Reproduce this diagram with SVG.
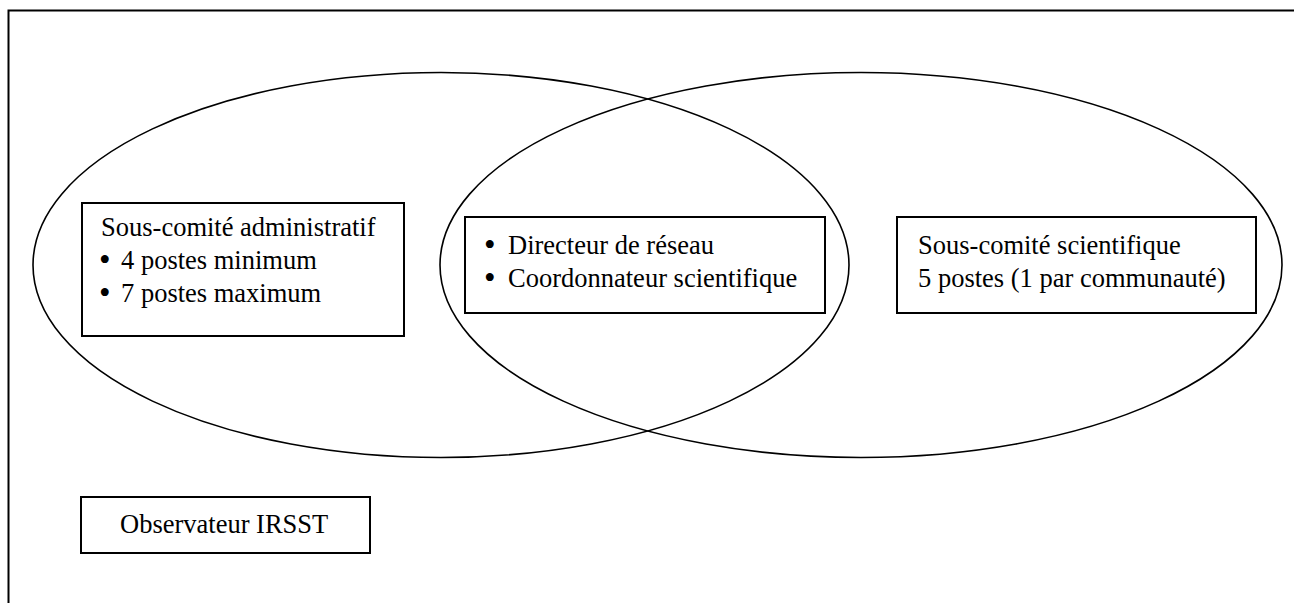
<svg xmlns="http://www.w3.org/2000/svg" width="1294" height="603" viewBox="0 0 1294 603">
<style>
.frame{fill:none;stroke:#000;stroke-width:2}
.ell{fill:none;stroke:#000;stroke-width:1.6}
.box{fill:#fff;stroke:#000;stroke-width:2}
text{font-family:"Liberation Serif","Times New Roman",serif;font-size:26.5px;fill:#000}
.bul{font-size:33px}
</style>
<rect width="1294" height="603" fill="#fff"/>
<path class="frame" d="M8.5,640 V10.5 H1300"/>
<g id="connectors"></g>
<g id="ellipse-left"><ellipse class="ell" cx="441" cy="265" rx="408" ry="192.5"/></g>
<g id="ellipse-right"><ellipse class="ell" cx="861" cy="265" rx="421" ry="192.5"/></g>
<g id="admin">
<rect class="box" x="82" y="203" width="322" height="133"/>
<text x="101" y="236">Sous-comité administratif</text>
<text class="bul" x="99" y="271">•</text><text x="121" y="269">4 postes minimum</text>
<text class="bul" x="99" y="304">•</text><text x="121" y="302">7 postes maximum</text>
</g>
<g id="centre">
<rect class="box" x="465" y="217" width="360" height="96"/>
<text class="bul" x="484" y="256">•</text><text x="508" y="254">Directeur de réseau</text>
<text class="bul" x="484" y="289">•</text><text x="508" y="287">Coordonnateur scientifique</text>
</g>
<g id="scientifique">
<rect class="box" x="897" y="217" width="359" height="96"/>
<text x="918" y="254">Sous-comité scientifique</text>
<text x="918" y="287">5 postes (1 par communauté)</text>
</g>
<g id="observateur">
<rect class="box" x="81" y="497" width="289" height="56"/>
<text x="120" y="533">Observateur IRSST</text>
</g>
</svg>
